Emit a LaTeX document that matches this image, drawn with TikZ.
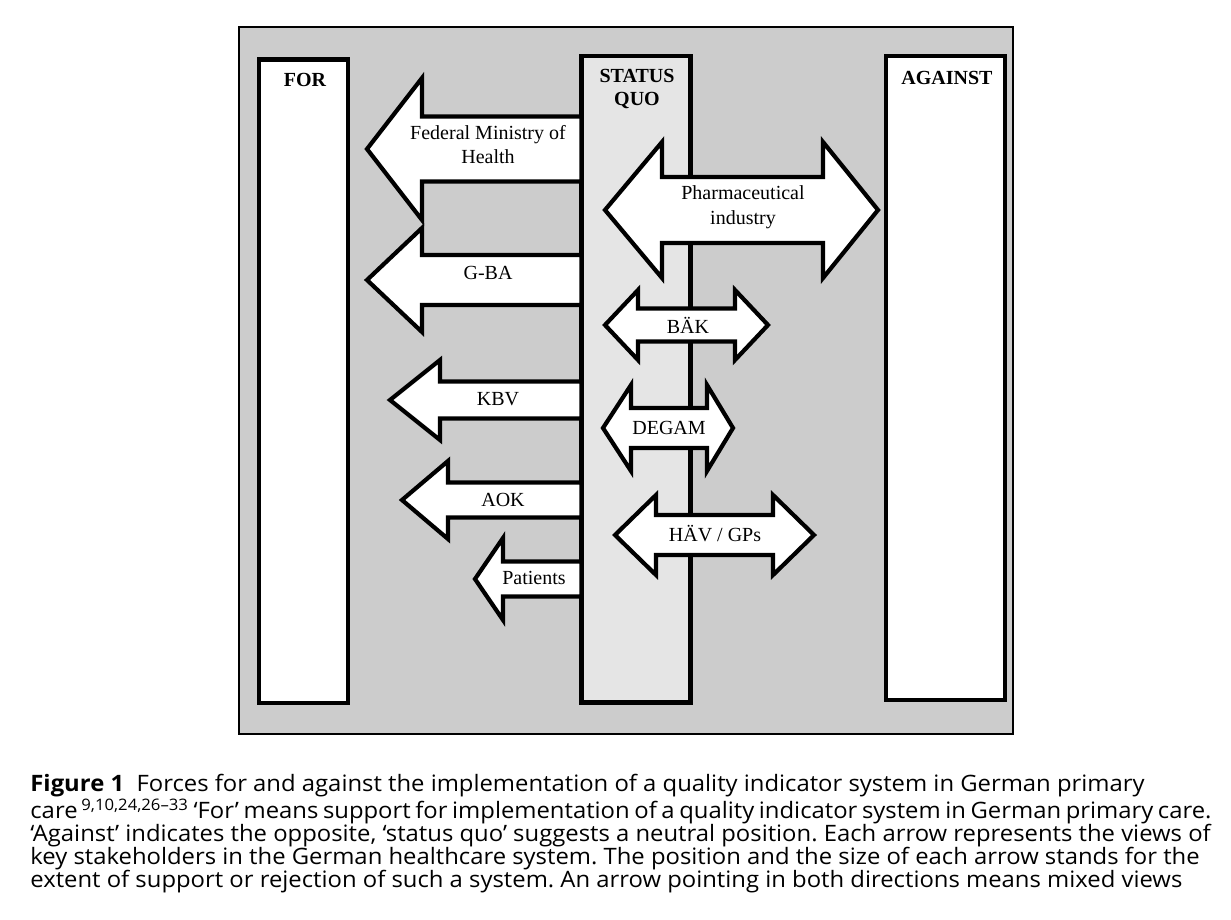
\documentclass[tikz,border=0pt]{standalone}
\usepackage{fontspec}
\setmainfont{Liberation Serif}
\newfontfamily\capfont[FakeStretch=1.055]{Open Sans}
\usepackage{tikz}

\begin{document}
\begin{tikzpicture}[x=0.5pt, y=-0.5pt,
    box/.style={line width=2.1pt, fill=white},
    arr/.style={line width=2.1pt, fill=white, line join=miter},
    lbl/.style={font=\fontsize{10}{12}\selectfont, align=center, inner sep=0pt},
    head/.style={font=\bfseries\fontsize{10}{11.5}\selectfont, align=center, inner sep=0pt}]
    \useasboundingbox (0,0) rectangle (1231,920);
    \draw[fill=black!20, line width=0.7pt] (239,27) rectangle (1013,734);
    \draw[box] (259,59.5) rectangle (348,703); \draw[box] (886,56) rectangle (1005,700);
    \draw[box, fill=black!10] (581.5,56) rectangle (690.5,702.5);

    % for: tip / head base / centre / head half / shaft half
    \foreach \t/\b/\y/\h/\s in {367/422/149/71/32.5, 367/422/280/52/25, 390/440/400/40/18.5, 402/448/500/39/17.5, 475/503/579/41/17.5}
        \draw[arr] (581.5,\y-\s) -- (\b,\y-\s) -- (\b,\y-\h) -- (\t,\y) -- (\b,\y+\h) -- (\b,\y+\s) -- (581.5,\y+\s) -- cycle;
    % mixed views: both ways
    \foreach \l/\lb/\rb/\r/\y/\h/\s in {605/662/823/878/210/68/33, 605/638/735/768/325/35/16.5, 603/631/707/733/428/43/20, 615/656/773/814/535/40/20}
        \draw[arr] (\l,\y) -- (\lb,\y-\h) -- (\lb,\y-\s) -- (\rb,\y-\s) -- (\rb,\y-\h) -- (\r,\y) -- (\rb,\y+\h) -- (\rb,\y+\s) -- (\lb,\y+\s) -- (\lb,\y+\h) -- cycle;

    \node[head] (for) at (305,80) {FOR}; \node[head] (quo) at (637,88.5) {STATUS\\QUO}; \node[head] (against) at (947,78) {AGAINST};
    \node[lbl] (bmg) at (488,145) {Federal Ministry of\\Health}; \node[lbl] (gba) at (488,273) {G-BA};
    \node[lbl] (kbv) at (498,399) {KBV}; \node[lbl] (aok) at (503,500) {AOK}; \node[lbl] (pat) at (534,578) {Patients};
    \node[lbl, align=center, font=\fontsize{10}{12.5}\selectfont] (pharma) at (743,207.5) {Pharmaceutical\\industry};
    \node[lbl] (baek) at (688,325) {BÄK}; \node[lbl] (degam) at (669,428) {DEGAM}; \node[lbl] (haev) at (715,534) {HÄV / GPs};

    \node[anchor=north west, inner sep=0pt, align=left, font=\capfont\frenchspacing\fontsize{11.3}{11.5}\selectfont] (caption) at (30,774)
        {\textbf{Figure 1}\hspace{0.55em}Forces for and against the implementation of a quality indicator system in German primary\\
        {\spaceskip=2.3pt care\,\textsuperscript{9,10,24,26–33} ‘For’ means support for implementation of a quality indicator system in German primary care.}\\
        ‘Against’ indicates the opposite, ‘status quo’ suggests a neutral position. Each arrow represents the views of\\
        key stakeholders in the German healthcare system. The position and the size of each arrow stands for the\\
        extent of support or rejection of such a system. An arrow pointing in both directions means mixed views};
\end{tikzpicture}
\end{document}
